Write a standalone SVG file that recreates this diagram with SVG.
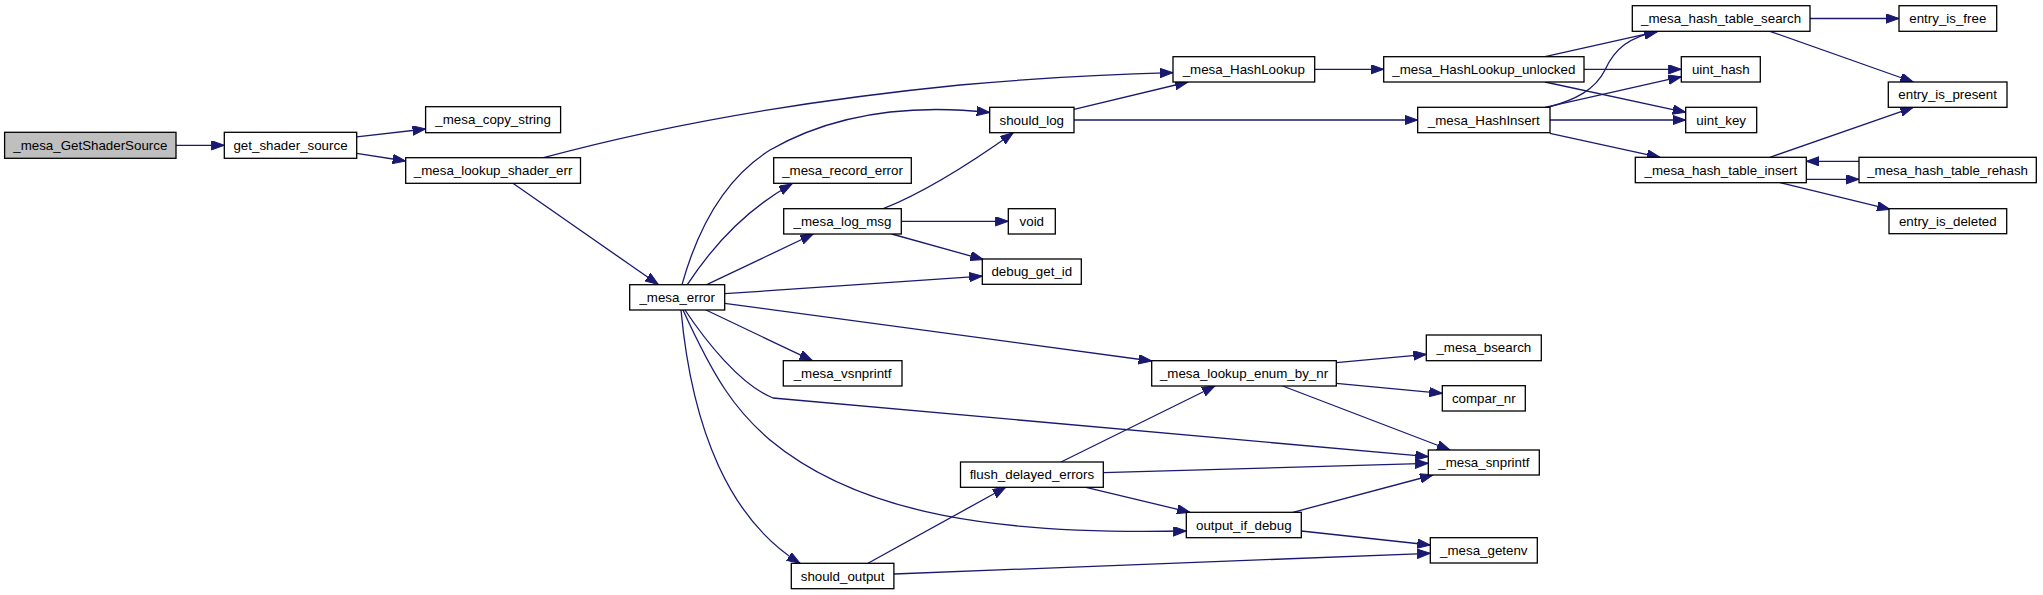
<svg xmlns="http://www.w3.org/2000/svg" width="2043" height="595" viewBox="0 0 2043 595">
<style>
.n rect{fill:#ffffff;stroke:#000000;stroke-width:1.3}
.n.root rect{fill:#bfbfbf}
.n text{font-family:"Liberation Sans",Arial,sans-serif;font-size:13.33px;fill:#000000;text-anchor:middle}
.e path{fill:none;stroke:#191970;stroke-width:1.3;marker-end:url(#ah)}
</style>
<defs>
<marker id="ah" markerUnits="userSpaceOnUse" markerWidth="14" markerHeight="10" refX="13" refY="4.7" orient="auto">
<path d="M0,0 L13,4.7 L0,9.4 z" fill="#191970" stroke="#191970" stroke-width="1"/>
</marker>
</defs>
<rect width="2043" height="595" fill="#ffffff"/>
<g id="edges" class="e">
<path d="M176,145.3 L224.3,145.3"/>
<path d="M356.7,136.8 L425.6,129"/>
<path d="M356.7,153.3 L405.7,161"/>
<path d="M543.5,157.7 C620,137 760,105 960,85 C1060,76 1120,74 1173,72.7"/>
<path d="M512.9,183.3 L658.3,284.5"/>
<path d="M682,284.7 C700,220 730,175 770,150 C840,110 920,105 989.7,112.5"/>
<path d="M687.3,284.7 C710,250 745,210 792,184"/>
<path d="M706.7,284.7 L813.3,234"/>
<path d="M724.7,293.7 L982.3,276.2"/>
<path d="M724.7,303.3 L1151.7,361"/>
<path d="M706,310 L812.4,360.7"/>
<path d="M685,310 C705,340 740,385 773,398 L1428.3,456.7"/>
<path d="M683,310 C715,380 735,410 770,440 C860,515 1000,535 1186.3,531"/>
<path d="M681,310 C692,430 730,520 800,563.3"/>
<path d="M868,563.3 L1005.7,487.3"/>
<path d="M893.9,574 L1430.3,553.3"/>
<path d="M1061,462 L1215,386"/>
<path d="M1103.3,472.7 L1428.3,463.3"/>
<path d="M1086,487.3 L1190,512.3"/>
<path d="M1293,512.3 L1433,475"/>
<path d="M1301.3,531 L1430.3,545"/>
<path d="M1336.3,362.7 L1426.3,354.3"/>
<path d="M1336.3,383.3 L1442.3,393.3"/>
<path d="M1282.7,386 L1450,450"/>
<path d="M883.3,208.7 C930,190 975,160 1013.3,132.7"/>
<path d="M901.3,221.3 L1008.3,221.3"/>
<path d="M891.7,234 L983.3,259.5"/>
<path d="M1074,109.3 L1188,82"/>
<path d="M1074,120 L1417.7,120"/>
<path d="M1314.7,69.3 L1383.7,69.3"/>
<path d="M1545,56.7 L1658,31.3"/>
<path d="M1584,69.3 L1681.3,69.3"/>
<path d="M1545,82 L1685.7,112.3"/>
<path d="M1548,107.3 C1575,100 1595,90 1605,70 C1615,48 1630,37 1657,31.3"/>
<path d="M1545,107.3 L1681.3,76.7"/>
<path d="M1550,120 L1685.7,120"/>
<path d="M1550,133.3 L1660,157.3"/>
<path d="M1810,18.5 L1899,18.5"/>
<path d="M1770,31.3 L1913.3,82"/>
<path d="M1770,157.3 L1913.3,107.3"/>
<path d="M1806.3,179.3 L1859,179.3"/>
<path d="M1859,161.3 L1806.3,161.3"/>
<path d="M1780,182.7 L1890,209.3"/>
</g>
<g id="n_GetShaderSource" class="n root"><rect x="4.6" y="132.3" width="171.4" height="26"/><text x="90.3" y="149.8">_mesa_GetShaderSource</text></g>
<g id="n_get_shader_source" class="n"><rect x="224.3" y="132.3" width="132.4" height="26"/><text x="290.5" y="149.8">get_shader_source</text></g>
<g id="n_mesa_copy_string" class="n"><rect x="425.6" y="106.7" width="135" height="26"/><text x="493.1" y="124.2">_mesa_copy_string</text></g>
<g id="n_mesa_lookup_shader_err" class="n"><rect x="405.7" y="157.7" width="174.8" height="25.6"/><text x="493.1" y="175">_mesa_lookup_shader_err</text></g>
<g id="n_mesa_HashLookup" class="n"><rect x="1173" y="56.7" width="141.7" height="25.3"/><text x="1243.8" y="73.8">_mesa_HashLookup</text></g>
<g id="n_mesa_error" class="n"><rect x="629.7" y="284.7" width="95" height="25.3"/><text x="677.2" y="301.8">_mesa_error</text></g>
<g id="n_should_log" class="n"><rect x="989.7" y="107.3" width="84.3" height="25.4"/><text x="1031.8" y="124.5">should_log</text></g>
<g id="n_mesa_record_error" class="n"><rect x="773.7" y="157.7" width="137.6" height="25.6"/><text x="842.5" y="175">_mesa_record_error</text></g>
<g id="n_mesa_log_msg" class="n"><rect x="783.7" y="208.7" width="117.6" height="25.3"/><text x="842.5" y="225.8">_mesa_log_msg</text></g>
<g id="n_debug_get_id" class="n"><rect x="982.3" y="259" width="99" height="25.3"/><text x="1031.8" y="276.1">debug_get_id</text></g>
<g id="n_mesa_vsnprintf" class="n"><rect x="783.3" y="360.7" width="118.7" height="25.3"/><text x="842.6" y="377.8">_mesa_vsnprintf</text></g>
<g id="n_mesa_lookup_enum_by_nr" class="n"><rect x="1151.7" y="360.7" width="184.6" height="25.3"/><text x="1244" y="377.8">_mesa_lookup_enum_by_nr</text></g>
<g id="n_mesa_snprintf" class="n"><rect x="1428.3" y="450" width="111" height="25"/><text x="1483.8" y="467">_mesa_snprintf</text></g>
<g id="n_flush_delayed_errors" class="n"><rect x="960.5" y="462" width="142.8" height="25.3"/><text x="1031.9" y="479.1">flush_delayed_errors</text></g>
<g id="n_output_if_debug" class="n"><rect x="1186.3" y="512.3" width="115" height="25.4"/><text x="1243.8" y="529.5">output_if_debug</text></g>
<g id="n_should_output" class="n"><rect x="791.3" y="563.3" width="102.6" height="25.4"/><text x="842.6" y="580.5">should_output</text></g>
<g id="n_void" class="n"><rect x="1008.3" y="208.7" width="47" height="25.3"/><text x="1031.8" y="225.8">void</text></g>
<g id="n_mesa_HashLookup_unlocked" class="n"><rect x="1383.7" y="56.7" width="200.3" height="25.3"/><text x="1483.8" y="73.8">_mesa_HashLookup_unlocked</text></g>
<g id="n_mesa_HashInsert" class="n"><rect x="1417.7" y="107.3" width="132.3" height="25.4"/><text x="1483.8" y="124.5">_mesa_HashInsert</text></g>
<g id="n_mesa_hash_table_search" class="n"><rect x="1632.3" y="5.7" width="177.7" height="25.6"/><text x="1721.1" y="23">_mesa_hash_table_search</text></g>
<g id="n_uint_hash" class="n"><rect x="1681.3" y="56.7" width="79" height="25.3"/><text x="1720.8" y="73.8">uint_hash</text></g>
<g id="n_uint_key" class="n"><rect x="1685.7" y="107.3" width="71" height="25.4"/><text x="1721.2" y="124.5">uint_key</text></g>
<g id="n_mesa_hash_table_insert" class="n"><rect x="1635.3" y="157.3" width="171" height="25.4"/><text x="1720.8" y="174.5">_mesa_hash_table_insert</text></g>
<g id="n_entry_is_free" class="n"><rect x="1899" y="5.7" width="97.7" height="25.6"/><text x="1947.8" y="23">entry_is_free</text></g>
<g id="n_entry_is_present" class="n"><rect x="1888.3" y="82" width="118.7" height="25.3"/><text x="1947.6" y="99.1">entry_is_present</text></g>
<g id="n_mesa_hash_table_rehash" class="n"><rect x="1859" y="157.3" width="177.3" height="25.4"/><text x="1947.6" y="174.5">_mesa_hash_table_rehash</text></g>
<g id="n_entry_is_deleted" class="n"><rect x="1889" y="208.7" width="117.7" height="25"/><text x="1947.8" y="225.7">entry_is_deleted</text></g>
<g id="n_mesa_bsearch" class="n"><rect x="1426.3" y="335" width="115" height="25.7"/><text x="1483.8" y="352.4">_mesa_bsearch</text></g>
<g id="n_compar_nr" class="n"><rect x="1442.3" y="385.7" width="83" height="25.3"/><text x="1483.8" y="402.8">compar_nr</text></g>
<g id="n_mesa_getenv" class="n"><rect x="1430.3" y="537.7" width="107" height="25.3"/><text x="1483.8" y="554.8">_mesa_getenv</text></g>
</svg>
